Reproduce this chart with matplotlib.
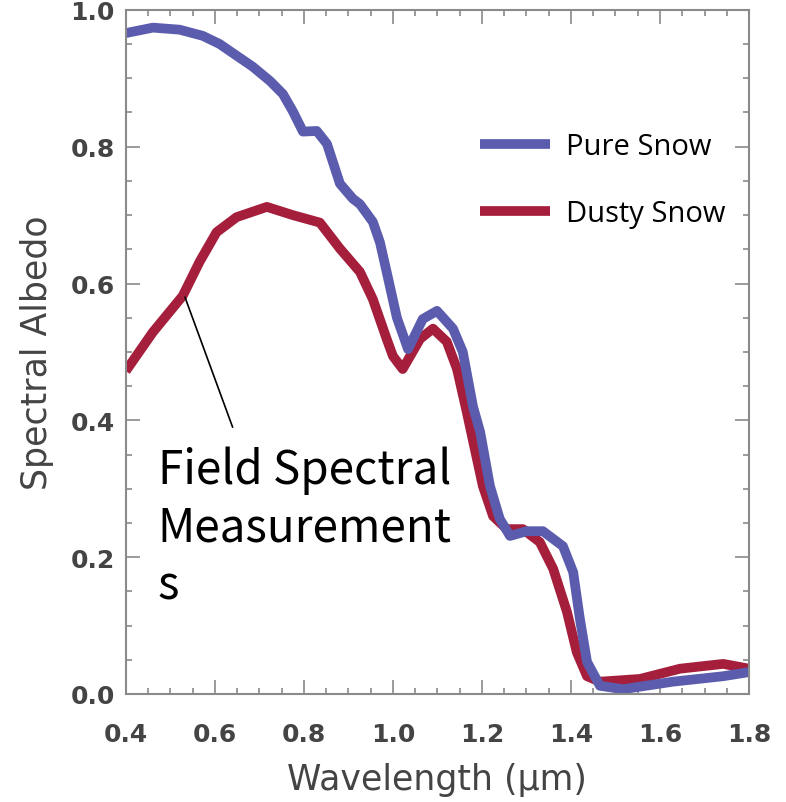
import matplotlib.pyplot as plt
from matplotlib.ticker import MultipleLocator

# spectral albedo curves (wavelength in um)
pure_wl = [0.40, 0.461, 0.521, 0.573, 0.611, 0.649, 0.685, 0.724, 0.753,
           0.775, 0.798, 0.829, 0.852, 0.881, 0.91, 0.926, 0.955, 0.971,
           0.986, 1.009, 1.034, 1.067, 1.099, 1.135, 1.157, 1.18, 1.196,
           1.218, 1.24, 1.263, 1.301, 1.337, 1.382, 1.405, 1.42, 1.436,
           1.465, 1.517, 1.629, 1.742, 1.80]
pure_albedo = [0.966, 0.974, 0.971, 0.962, 0.950, 0.933, 0.917, 0.896, 0.877,
               0.852, 0.822, 0.823, 0.804, 0.746, 0.724, 0.716, 0.690, 0.660,
               0.617, 0.550, 0.504, 0.548, 0.560, 0.534, 0.500, 0.420, 0.383,
               0.304, 0.256, 0.231, 0.238, 0.238, 0.216, 0.178, 0.110, 0.047,
               0.012, 0.007, 0.018, 0.026, 0.032]

dusty_wl = [0.40, 0.461, 0.528, 0.566, 0.604, 0.649, 0.717, 0.775, 0.836,
            0.881, 0.926, 0.955, 0.986, 1.0, 1.022, 1.061, 1.09, 1.121,
            1.144, 1.166, 1.18, 1.202, 1.225, 1.256, 1.292, 1.33, 1.36,
            1.391, 1.413, 1.436, 1.465, 1.555, 1.645, 1.742, 1.80]
dusty_albedo = [0.472, 0.529, 0.582, 0.632, 0.675, 0.697, 0.712, 0.700, 0.689,
                0.651, 0.617, 0.577, 0.519, 0.494, 0.475, 0.519, 0.534, 0.515,
                0.475, 0.412, 0.370, 0.304, 0.260, 0.241, 0.241, 0.222, 0.183,
                0.120, 0.061, 0.026, 0.018, 0.022, 0.037, 0.044, 0.037]

x_ticks = [0.4, 0.6, 0.8, 1.0, 1.2, 1.4, 1.6, 1.8]
y_ticks = [0.0, 0.2, 0.4, 0.6, 0.8, 1.0]

blue = "#5b5cad"
red = "#a51f3d"
axis_grey = "#8a8a8a"
label_grey = "#444444"

fig = plt.figure(figsize=(7.86, 8.03), dpi=100)
ax = fig.add_axes([0.160, 0.1345, 0.793, 0.852])

dusty_line, = ax.plot(dusty_wl, dusty_albedo, color=red, lw=7,
                      solid_joinstyle="round", solid_capstyle="butt",
                      label="Dusty Snow")
pure_line, = ax.plot(pure_wl, pure_albedo, color=blue, lw=7,
                     solid_joinstyle="round", solid_capstyle="butt",
                     label="Pure Snow")

ax.set_xlim(0.4, 1.8)
ax.set_ylim(0.0, 1.0)
ax.set_xticks(x_ticks)
ax.set_yticks(y_ticks)
ax.set_xticklabels([f"{v:.1f}" for v in x_ticks])
ax.set_yticklabels([f"{v:.1f}" for v in y_ticks])
ax.xaxis.set_minor_locator(MultipleLocator(0.05))
ax.yaxis.set_minor_locator(MultipleLocator(0.05))

ax.tick_params(which="both", direction="in", top=True, right=True,
               color=axis_grey, width=1.2)
ax.tick_params(which="major", length=10)
ax.tick_params(which="minor", length=4)
ax.tick_params(axis="x", which="major", pad=20)
ax.tick_params(axis="y", which="major", pad=8)
for lab in ax.get_xticklabels() + ax.get_yticklabels():
    lab.set_family("DejaVu Sans")
    lab.set_fontsize(18)
    lab.set_color(label_grey)
    lab.set_fontweight("bold")
for sp in ax.spines.values():
    sp.set_color(axis_grey)
    sp.set_linewidth(1.5)

ax.set_xlabel("Wavelength (µm)", family="DejaVu Sans", fontsize=25,
              color=label_grey, labelpad=12)
ax.set_ylabel("Spectral Albedo", family="DejaVu Sans", fontsize=25,
              color=label_grey, labelpad=12)

ax.legend(handles=[pure_line, dusty_line], loc="center left",
          bbox_to_anchor=(0.568, 0.751), frameon=False, borderpad=0,
          borderaxespad=0, handlelength=2.4, handletextpad=0.55,
          labelspacing=1.3, prop={"family": "Open Sans", "size": 21})

# callout for the field measurements
ax.annotate("", xy=(0.533, 0.58), xytext=(0.640, 0.39),
            arrowprops=dict(arrowstyle="-", color="black", lw=1.2,
                            shrinkA=0, shrinkB=0))
ax.text(0.472, 0.3626, "Field Spectral\nMeasurement\ns",
        family="Noto Sans CJK KR", fontsize=33, color="black",
        ha="left", va="top", linespacing=1.24)

fig.savefig("out.png", dpi=100)
